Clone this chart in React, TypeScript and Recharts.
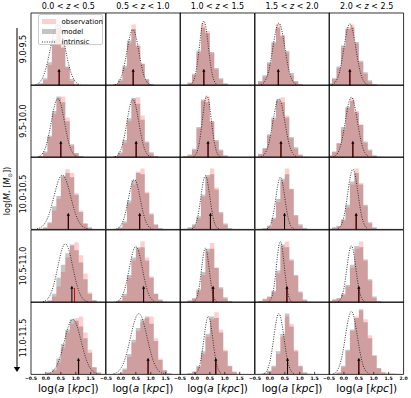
import React from 'react';
import { ComposedChart, Area, Line, XAxis, YAxis, ReferenceLine, ReferenceArea } from 'recharts';

// ---------------- data ----------------
const BIN_EDGES = [-0.55, -0.4, -0.25, -0.1, 0.05, 0.2, 0.35, 0.5, 0.65, 0.8, 0.95, 1.1, 1.25, 1.4, 1.55, 1.7, 1.85, 2.0];
const X_TICKS = [-0.5, 0, 0.5, 1, 1.5, 2];
const Z_LOW = ['0.0', '0.5', '1.0', '1.5', '2.0'];
const Z_HIGH = ['0.5', '1.0', '1.5', '2.0', '2.5'];
const MASS_BINS = ['9.0-9.5', '9.5-10.0', '10.0-10.5', '10.5-11.0', '11.0-11.5'];
const INTR_STEP = 0.05;
const LEGEND_LABELS = ['observation', 'model', 'intrinsic'];

// 9.0-9.5
const OBS_M9_0 = [
  [0, 0, 2, 7, 28, 62, 85, 55, 25, 6, 1, 0, 0, 0, 0, 0, 0],
  [0, 0, 1, 6, 24, 58, 84, 56, 30, 7, 1, 0, 0, 0, 0, 0, 0],
  [0, 0, 3, 14, 45, 86, 75, 44, 22, 8, 2, 0, 0, 0, 0, 0, 0],
  [0, 5, 12, 30, 58, 85, 70, 45, 14, 5, 1, 0, 0, 0, 0, 0, 0],
  [2, 9, 24, 52, 80, 84, 58, 32, 16, 5, 1, 0, 0, 0, 0, 0, 0],
];
const MODEL_M9_0 = [
  [0, 1, 3, 10, 32, 64, 79, 52, 26, 9, 2, 0, 0, 0, 0, 0, 0],
  [0, 0, 2, 8, 27, 62, 78, 54, 30, 9, 2, 0, 0, 0, 0, 0, 0],
  [0, 1, 4, 16, 48, 80, 72, 46, 24, 10, 3, 0, 0, 0, 0, 0, 0],
  [1, 6, 14, 32, 60, 80, 68, 48, 17, 6, 2, 0, 0, 0, 0, 0, 0],
  [3, 10, 26, 55, 78, 80, 60, 34, 18, 7, 2, 0, 0, 0, 0, 0, 0],
];
const INTR_X0_M9_0 = [-0.35, -0.2, -0.15, -0.3, -0.4];
const INTR_M9_0 = [
  [0.9, 1.7, 2.9, 4.7, 7.5, 11.3, 16.6, 23.4, 31.5, 40.9, 51.0, 61.0, 70.1, 77.5, 82.3, 84, 82.3, 77.5, 70.1, 61.0, 51.0, 40.9, 31.5, 23.4, 16.6, 11.3, 7.5, 4.7, 2.9, 1.7, 0.9],
  [0.8, 1.8, 3.4, 6.2, 10.4, 16.6, 25.0, 35.3, 46.7, 58.1, 67.9, 74.6, 77, 74.6, 67.9, 58.1, 46.7, 35.3, 25.0, 16.6, 10.4, 6.2, 3.4, 1.8, 0.8],
  [1.0, 2.6, 5.9, 12.0, 22.2, 36.6, 54.0, 71.3, 84.2, 89, 84.2, 71.3, 54.0, 36.6, 22.2, 12.0, 5.9, 2.6, 1.0],
  [0.9, 2.0, 3.8, 6.9, 11.6, 18.6, 28.0, 39.4, 52.2, 64.9, 75.9, 83.3, 86, 83.3, 75.9, 64.9, 52.2, 39.4, 28.0, 18.6, 11.6, 6.9, 3.8, 2.0, 0.9],
  [0.9, 2.0, 3.7, 6.8, 11.5, 18.4, 27.6, 38.9, 51.6, 64.2, 75.0, 82.4, 85, 82.4, 75.0, 64.2, 51.6, 38.9, 27.6, 18.4, 11.5, 6.8, 3.7, 2.0, 0.9],
];
const MED_MODEL_M9_0 = [0.44, 0.41, 0.3, 0.28, 0.2];
const MED_OBS_M9_0 = [0.45, 0.41, 0.3, 0.28, 0.2];

// 9.5-10.0
const OBS_M9_5 = [
  [0, 0, 1, 6, 28, 60, 82, 84, 55, 16, 5, 1, 0, 0, 0, 0, 0],
  [0, 0, 1, 5, 20, 50, 80, 83, 58, 20, 5, 1, 0, 0, 0, 0, 0],
  [0, 1, 3, 10, 40, 78, 84, 50, 22, 9, 2, 0, 0, 0, 0, 0, 0],
  [0, 4, 12, 30, 52, 78, 83, 58, 26, 12, 3, 0, 0, 0, 0, 0, 0],
  [2, 7, 19, 38, 68, 82, 64, 45, 20, 9, 2, 0, 0, 0, 0, 0, 0],
];
const MODEL_M9_5 = [
  [0, 0, 2, 8, 30, 64, 84, 76, 50, 18, 6, 2, 0, 0, 0, 0, 0],
  [0, 0, 2, 7, 24, 54, 82, 74, 52, 22, 7, 2, 0, 0, 0, 0, 0],
  [0, 2, 4, 12, 42, 80, 76, 50, 24, 11, 3, 0, 0, 0, 0, 0, 0],
  [1, 5, 13, 32, 55, 80, 76, 55, 28, 14, 4, 1, 0, 0, 0, 0, 0],
  [3, 8, 20, 42, 70, 78, 62, 45, 22, 11, 3, 1, 0, 0, 0, 0, 0],
];
const INTR_X0_M9_5 = [-0.25, -0.2, -0.05, -0.3, -0.35];
const INTR_M9_5 = [
  [1.1, 1.9, 3.6, 6.2, 10.0, 15.5, 22.8, 32.0, 42.4, 53.6, 64.2, 73.1, 79.0, 81, 79.0, 73.1, 64.2, 53.6, 42.4, 32.0, 22.8, 15.5, 10.0, 6.2, 3.6, 1.9, 1.1],
  [0.9, 1.8, 3.5, 6.4, 10.8, 17.3, 26.0, 36.6, 48.6, 60.4, 70.6, 77.5, 80, 77.5, 70.6, 60.4, 48.6, 36.6, 26.0, 17.3, 10.8, 6.4, 3.5, 1.8, 0.9],
  [0.9, 2.5, 5.6, 11.5, 21.2, 34.9, 51.6, 68.1, 80.4, 85, 80.4, 68.1, 51.6, 34.9, 21.2, 11.5, 5.6, 2.5, 0.9],
  [0.9, 1.9, 3.6, 6.5, 10.9, 17.5, 26.3, 37.1, 49.2, 61.2, 71.4, 78.5, 81, 78.5, 71.4, 61.2, 49.2, 37.1, 26.3, 17.5, 10.9, 6.5, 3.6, 1.9, 0.9],
  [0.9, 1.9, 3.7, 6.6, 11.2, 17.9, 27.0, 38.0, 50.4, 62.7, 73.2, 80.4, 83, 80.4, 73.2, 62.7, 50.4, 38.0, 27.0, 17.9, 11.2, 6.6, 3.7, 1.9, 0.9],
];
const MED_MODEL_M9_5 = [0.5, 0.51, 0.44, 0.37, 0.3];
const MED_OBS_M9_5 = [0.5, 0.51, 0.44, 0.37, 0.3];

// 10.0-10.5
const OBS_M10_0 = [
  [0, 0, 0, 2, 8, 26, 42, 72, 83, 78, 50, 26, 8, 2, 0, 0, 0],
  [0, 0, 0, 2, 8, 36, 62, 80, 84, 52, 20, 6, 1, 0, 0, 0, 0],
  [0, 0, 2, 5, 15, 45, 72, 84, 58, 22, 6, 1, 0, 0, 0, 0, 0],
  [0, 0, 1, 4, 14, 38, 66, 84, 55, 18, 5, 1, 0, 0, 0, 0, 0],
  [0, 2, 4, 12, 30, 62, 84, 64, 32, 8, 2, 0, 0, 0, 0, 0, 0],
];
const MODEL_M10_0 = [
  [0, 0, 1, 3, 10, 32, 46, 74, 78, 72, 48, 24, 8, 3, 0, 0, 0],
  [0, 0, 1, 3, 11, 40, 68, 78, 76, 50, 22, 7, 2, 0, 0, 0, 0],
  [0, 1, 3, 7, 18, 48, 75, 76, 55, 24, 8, 2, 0, 0, 0, 0, 0],
  [0, 1, 2, 5, 16, 42, 70, 76, 56, 20, 7, 2, 0, 0, 0, 0, 0],
  [1, 3, 5, 14, 34, 66, 78, 62, 34, 10, 3, 0, 0, 0, 0, 0, 0],
];
const INTR_X0_M10_0 = [-0.3, -0.15, -0.1, -0.1, -0.2];
const INTR_M10_0 = [
  [0.8, 1.3, 2.1, 3.3, 5.1, 7.6, 10.9, 15.2, 20.6, 27.1, 34.4, 42.2, 50.3, 58.1, 65.0, 70.4, 73.8, 75, 73.8, 70.4, 65.0, 58.1, 50.3, 42.2, 34.4, 27.1, 20.6, 15.2, 10.9, 7.6, 5.1, 3.3, 2.1, 1.3, 0.8],
  [0.8, 1.6, 3.0, 5.5, 9.3, 14.9, 22.4, 31.6, 41.9, 52.1, 60.9, 66.9, 69, 66.9, 60.9, 52.1, 41.9, 31.6, 22.4, 14.9, 9.3, 5.5, 3.0, 1.6, 0.8],
  [0.8, 2.1, 4.9, 10.0, 18.4, 30.4, 44.9, 59.3, 70.0, 74, 70.0, 59.3, 44.9, 30.4, 18.4, 10.0, 4.9, 2.1, 0.8],
  [0.8, 2.1, 4.8, 9.7, 17.9, 29.6, 43.7, 57.7, 68.1, 72, 68.1, 57.7, 43.7, 29.6, 17.9, 9.7, 4.8, 2.1, 0.8],
  [1.1, 2.5, 5.2, 10.0, 17.5, 28.1, 41.6, 56.3, 69.8, 79.5, 83, 79.5, 69.8, 56.3, 41.6, 28.1, 17.5, 10.0, 5.2, 2.5, 1.1],
];
const MED_MODEL_M10_0 = [0.75, 0.63, 0.52, 0.49, 0.41];
const MED_OBS_M10_0 = [0.75, 0.63, 0.52, 0.49, 0.41];

// 10.5-11.0
const OBS_M10_5 = [
  [0, 0, 0, 0, 2, 8, 22, 42, 62, 78, 83, 65, 40, 14, 3, 0, 0],
  [0, 0, 0, 2, 9, 34, 58, 74, 84, 62, 36, 12, 3, 0, 0, 0, 0],
  [0, 0, 2, 5, 16, 38, 70, 82, 48, 19, 5, 1, 0, 0, 0, 0, 0],
  [0, 2, 4, 7, 14, 40, 76, 84, 60, 36, 13, 3, 0, 0, 0, 0, 0],
  [2, 4, 5, 10, 22, 48, 74, 84, 60, 30, 6, 1, 0, 0, 0, 0, 0],
];
const MODEL_M10_5 = [
  [0, 0, 0, 1, 3, 12, 34, 52, 68, 80, 72, 55, 32, 12, 3, 1, 0],
  [0, 0, 1, 3, 12, 38, 62, 76, 76, 58, 34, 12, 4, 1, 0, 0, 0],
  [0, 1, 3, 6, 18, 42, 74, 74, 48, 21, 7, 2, 0, 0, 0, 0, 0],
  [1, 2, 5, 8, 16, 44, 80, 76, 58, 38, 15, 4, 1, 0, 0, 0, 0],
  [2, 4, 6, 12, 24, 52, 78, 76, 58, 32, 8, 2, 0, 0, 0, 0, 0],
];
const INTR_X0_M10_5 = [-0.1, -0.15, -0.05, -0.05, -0.2];
const INTR_M10_5 = [
  [0.9, 1.6, 2.8, 4.5, 7.2, 10.9, 16.0, 22.5, 30.4, 39.4, 49.2, 58.8, 67.6, 74.8, 79.4, 81, 79.4, 74.8, 67.6, 58.8, 49.2, 39.4, 30.4, 22.5, 16.0, 10.9, 7.2, 4.5, 2.8, 1.6, 0.9],
  [1.0, 1.8, 3.4, 5.9, 9.5, 14.7, 21.7, 30.4, 40.3, 51.0, 61.1, 69.5, 75.1, 77, 75.1, 69.5, 61.1, 51.0, 40.3, 30.4, 21.7, 14.7, 9.5, 5.9, 3.4, 1.8, 1.0],
  [0.7, 2.0, 5.3, 11.8, 23.0, 38.6, 55.8, 69.7, 75, 69.7, 55.8, 38.6, 23.0, 11.8, 5.3, 2.0, 0.7],
  [0.8, 2.3, 5.9, 13.2, 25.7, 43.2, 62.5, 78.0, 84, 78.0, 62.5, 43.2, 25.7, 13.2, 5.9, 2.3, 0.8],
  [0.9, 2.3, 5.1, 10.5, 19.4, 32.1, 47.3, 62.5, 73.8, 78, 73.8, 62.5, 47.3, 32.1, 19.4, 10.5, 5.1, 2.3, 0.9],
];
const MED_MODEL_M10_5 = [0.87, 0.76, 0.61, 0.57, 0.5];
const MED_OBS_M10_5 = [0.96, 0.76, 0.61, 0.57, 0.5];

// 11.0-11.5
const OBS_M11_0 = [
  [0, 0, 0, 0, 2, 5, 16, 36, 58, 70, 78, 80, 58, 34, 10, 2, 0],
  [0, 0, 0, 1, 6, 24, 44, 60, 72, 78, 80, 50, 22, 5, 1, 0, 0],
  [0, 0, 1, 3, 10, 28, 52, 76, 86, 62, 34, 11, 3, 0, 0, 0, 0],
  [0, 0, 1, 4, 10, 28, 52, 80, 70, 34, 11, 2, 0, 0, 0, 0, 0],
  [0, 0, 2, 10, 32, 60, 80, 88, 76, 54, 26, 8, 3, 2, 2, 1, 0],
];
const MODEL_M11_0 = [
  [0, 0, 0, 1, 3, 7, 22, 42, 62, 76, 74, 66, 50, 30, 10, 3, 1],
  [0, 0, 1, 2, 8, 28, 48, 64, 76, 80, 70, 46, 20, 6, 2, 0, 0],
  [0, 1, 2, 4, 12, 32, 56, 80, 78, 58, 32, 12, 4, 1, 0, 0, 0],
  [0, 1, 2, 5, 12, 32, 56, 84, 66, 32, 12, 3, 1, 0, 0, 0, 0],
  [0, 1, 3, 12, 34, 62, 78, 90, 72, 50, 26, 9, 3, 1, 0, 0, 0],
];
const INTR_X0_M11_0 = [0.05, -0.25, 0.0, -0.2, -0.35];
const INTR_M11_0 = [
  [0.8, 1.3, 2.1, 3.3, 5.2, 7.7, 11.0, 15.4, 20.9, 27.4, 34.8, 42.8, 51.0, 58.9, 65.8, 71.3, 74.8, 76, 74.8, 71.3, 65.8, 58.9, 51.0, 42.8, 34.8, 27.4, 20.9, 15.4, 11.0, 7.7, 5.2, 3.3, 2.1, 1.3, 0.8],
  [0.8, 1.4, 2.4, 3.7, 5.7, 8.5, 12.2, 17.1, 23.1, 30.3, 38.5, 47.3, 56.4, 65.1, 72.7, 78.8, 82.7, 84, 82.7, 78.8, 72.7, 65.1, 56.4, 47.3, 38.5, 30.3, 23.1, 17.1, 12.2, 8.5, 5.7, 3.7, 2.4, 1.4, 0.8],
  [0.9, 2.3, 5.3, 10.8, 19.9, 32.9, 48.6, 64.1, 75.7, 80, 75.7, 64.1, 48.6, 32.9, 19.9, 10.8, 5.3, 2.3, 0.9],
  [1.1, 2.5, 5.3, 10.1, 17.7, 28.5, 42.1, 57.0, 70.6, 80.5, 84, 80.5, 70.6, 57.0, 42.1, 28.5, 17.7, 10.1, 5.3, 2.5, 1.1],
  [1.0, 2.0, 3.8, 7.0, 11.7, 18.8, 28.3, 39.8, 52.8, 65.7, 76.7, 84.3, 87, 84.3, 76.7, 65.7, 52.8, 39.8, 28.3, 18.8, 11.7, 7.0, 3.8, 2.0, 1.0],
];
const MED_MODEL_M11_0 = [1.09, 0.91, 0.7, 0.59, 0.5];
const MED_OBS_M11_0 = [1.1, 0.91, 0.7, 0.59, 0.5];

const OBS = [OBS_M9_0, OBS_M9_5, OBS_M10_0, OBS_M10_5, OBS_M11_0];
const MODEL = [MODEL_M9_0, MODEL_M9_5, MODEL_M10_0, MODEL_M10_5, MODEL_M11_0];
const INTR_X0 = [INTR_X0_M9_0, INTR_X0_M9_5, INTR_X0_M10_0, INTR_X0_M10_5, INTR_X0_M11_0];
const INTR = [INTR_M9_0, INTR_M9_5, INTR_M10_0, INTR_M10_5, INTR_M11_0];
const MED_MODEL = [MED_MODEL_M9_0, MED_MODEL_M9_5, MED_MODEL_M10_0, MED_MODEL_M10_5, MED_MODEL_M11_0];
const MED_OBS = [MED_OBS_M9_0, MED_OBS_M9_5, MED_OBS_M10_0, MED_OBS_M10_5, MED_OBS_M11_0];

// ---------------- layout / style ----------------
const X0 = 31;
const Y0 = 12.6;
const PW = 74.6;
const PH = 72.4;
const FONT = 'DejaVu Sans';
const OBS_COLOR = '#ff0000';
const OBS_ALPHA = 0.19;
const MODEL_COLOR = '#000000';
const MODEL_ALPHA = 0.23;

const MedianArrow = (props: any) => {
  const { x1, y1, y2 } = props;
  const top = Math.min(y1, y2);
  const bot = Math.max(y1, y2);
  return (
    <g>
      <line x1={x1} x2={x1} y1={bot} y2={top + 2.5} stroke="#000" strokeWidth={1} />
      <polygon points={`${x1 - 1.6},${top + 3} ${x1 + 1.6},${top + 3} ${x1},${top}`} fill="#000" />
    </g>
  );
};

const makeTick = (showLabel: boolean, isLastCol: boolean) => (props: any) => {
  const { x, y, payload } = props;
  const v = payload.value as number;
  const inner = v > -0.5 && v < 2;
  const label = showLabel && (v < 2 || isLastCol);
  const txt = v.toFixed(1).replace('-', '\u2212');
  return (
    <g>
      {inner && <line x1={x} x2={x} y1={y} y2={y - 2.5} stroke="#000" strokeWidth={0.7} />}
      {label && (
        <text x={x} y={y + 5.6} textAnchor="middle" fontSize={4.6} fontFamily={FONT} fontWeight="bold" fill="#000">
          {txt}
        </text>
      )}
    </g>
  );
};

function Panel({ r, c }: { r: number; c: number }) {
  const obs = OBS[r][c];
  const model = MODEL[r][c];
  const histData = BIN_EDGES.map((x, k) => ({
    x,
    obs: obs[Math.min(k, obs.length - 1)],
    model: model[Math.min(k, model.length - 1)],
  }));
  const intrData = INTR[r][c].map((y, i) => ({ x: +(INTR_X0[r][c] + i * INTR_STEP).toFixed(3), y }));
  const isBottom = r === 4;
  const ML = isBottom ? 7 : 1;
  const MR = isBottom ? 7 : 1;
  const XH = isBottom ? 9 : 0;
  const W = PW + ML + MR;
  const H = PH + 2 + XH;
  const mm = MED_MODEL[r][c];
  const mo = MED_OBS[r][c];
  return (
    <div style={{ position: 'absolute', left: X0 + c * PW - ML, top: Y0 + r * PH - 1, width: W, height: H }}>
      <ComposedChart width={W} height={H} margin={{ top: 1, right: MR, bottom: 1, left: ML }}>
        <XAxis
          dataKey="x"
          type="number"
          domain={[-0.5, 2]}
          ticks={X_TICKS}
          allowDataOverflow
          axisLine={false}
          tickLine={false}
          tickSize={0}
          tickMargin={0}
          height={XH}
          interval={0}
          tick={makeTick(isBottom, c === 4)}
        />
        <YAxis type="number" domain={[0, 100]} hide allowDataOverflow />
        <Area
          data={histData}
          dataKey="model"
          type="stepAfter"
          stroke="none"
          fill={MODEL_COLOR}
          fillOpacity={MODEL_ALPHA}
          isAnimationActive={false}
        />
        <Area
          data={histData}
          dataKey="obs"
          type="stepAfter"
          stroke="none"
          fill={OBS_COLOR}
          fillOpacity={OBS_ALPHA}
          isAnimationActive={false}
        />
        <Line
          data={intrData}
          dataKey="y"
          type="monotone"
          stroke="#222"
          strokeWidth={0.9}
          strokeDasharray="1 1.4"
          dot={false}
          isAnimationActive={false}
        />
        <ReferenceLine segment={[{ x: mo, y: 0 }, { x: mo, y: 20 }]} stroke="#d00000" strokeWidth={1} />
        <ReferenceLine segment={[{ x: mm, y: 0 }, { x: mm, y: 23 }]} shape={MedianArrow} />
        <ReferenceArea x1={-0.5} x2={2} y1={0} y2={100} fill="none" stroke="#000" strokeWidth={0.8} />
      </ComposedChart>
    </div>
  );
}

function LegendBox() {
  const rowY = [6.7, 16.7, 26.7];
  return (
    <div
      style={{
        position: 'absolute',
        left: 38,
        top: 14,
        width: 65,
        height: 31,
        boxSizing: 'border-box',
        border: '0.8px solid #cccccc',
        borderRadius: 2,
        background: 'rgba(255,255,255,0.8)',
        fontFamily: FONT,
        fontSize: 7,
      }}
    >
      {LEGEND_LABELS.map((lab, i) => (
        <React.Fragment key={lab}>
          {i < 2 ? (
            <div
              style={{
                position: 'absolute',
                left: 3,
                top: rowY[i] - 2.8,
                width: 13.5,
                height: 5.6,
                background: i === 0 ? `rgba(255,0,0,${OBS_ALPHA})` : `rgba(0,0,0,${MODEL_ALPHA})`,
              }}
            />
          ) : (
            <svg style={{ position: 'absolute', left: 3, top: rowY[i] - 2 }} width={14} height={4}>
              <line x1={0} x2={14} y1={2} y2={2} stroke="#222" strokeWidth={0.9} strokeDasharray="1 1.4" />
            </svg>
          )}
          <div style={{ position: 'absolute', left: 22.5, top: rowY[i] - 5, height: 10, lineHeight: '10px', color: '#000' }}>
            {lab}
          </div>
        </React.Fragment>
      ))}
    </div>
  );
}

export default function App() {
  const rows = [0, 1, 2, 3, 4];
  const cols = [0, 1, 2, 3, 4];
  return (
    <div style={{ position: 'absolute', left: 0, top: 0, width: 411, height: 398, background: '#fff', fontFamily: FONT, overflow: 'hidden' }}>
      {rows.map((r) => cols.map((c) => <Panel key={`${r}-${c}`} r={r} c={c} />))}

      {cols.map((c) => (
        <div
          key={`t${c}`}
          style={{ position: 'absolute', left: X0 + c * PW, top: 1, width: PW, textAlign: 'center', fontSize: 8, lineHeight: '11px', whiteSpace: 'nowrap' }}
        >
          {Z_LOW[c]} &lt; <i>z</i> &lt; {Z_HIGH[c]}
        </div>
      ))}

      {rows.map((r) => (
        <div
          key={`m${r}`}
          style={{
            position: 'absolute',
            left: 24.5 - PH / 2,
            top: Y0 + (r + 0.5) * PH - 5,
            width: PH,
            height: 10,
            lineHeight: '10px',
            textAlign: 'center',
            fontSize: 8,
            transform: 'rotate(-90deg)',
            whiteSpace: 'nowrap',
          }}
        >
          {MASS_BINS[r]}
        </div>
      ))}

      <div
        style={{
          position: 'absolute',
          left: 8 - 45,
          top: 191 - 6,
          width: 90,
          height: 12,
          lineHeight: '12px',
          textAlign: 'center',
          fontSize: 8,
          transform: 'rotate(-90deg)',
          whiteSpace: 'nowrap',
        }}
      >
        log(<i>M</i>
        <span style={{ fontSize: 5.5, position: 'relative', top: 1.5 }}>*</span> [<i>M</i>
        <span style={{ fontSize: 5.5, position: 'relative', top: 1.5 }}>{'\u2299'}</span>])
      </div>

      <svg style={{ position: 'absolute', left: 0, top: 0 }} width={30} height={398}>
        <line x1={17} x2={17} y1={28} y2={368} stroke="#000" strokeWidth={1} />
        <polygon points="13.8,367 20.2,367 17,372" fill="#000" />
      </svg>

      {cols.map((c) => (
        <div
          key={`x${c}`}
          style={{ position: 'absolute', left: X0 + c * PW - 10, top: 381, width: PW + 20, textAlign: 'center', fontSize: 10.5, lineHeight: '14px', whiteSpace: 'nowrap' }}
        >
          log(<i>a</i> [<i>kpc</i>])
        </div>
      ))}

      <LegendBox />
    </div>
  );
}
